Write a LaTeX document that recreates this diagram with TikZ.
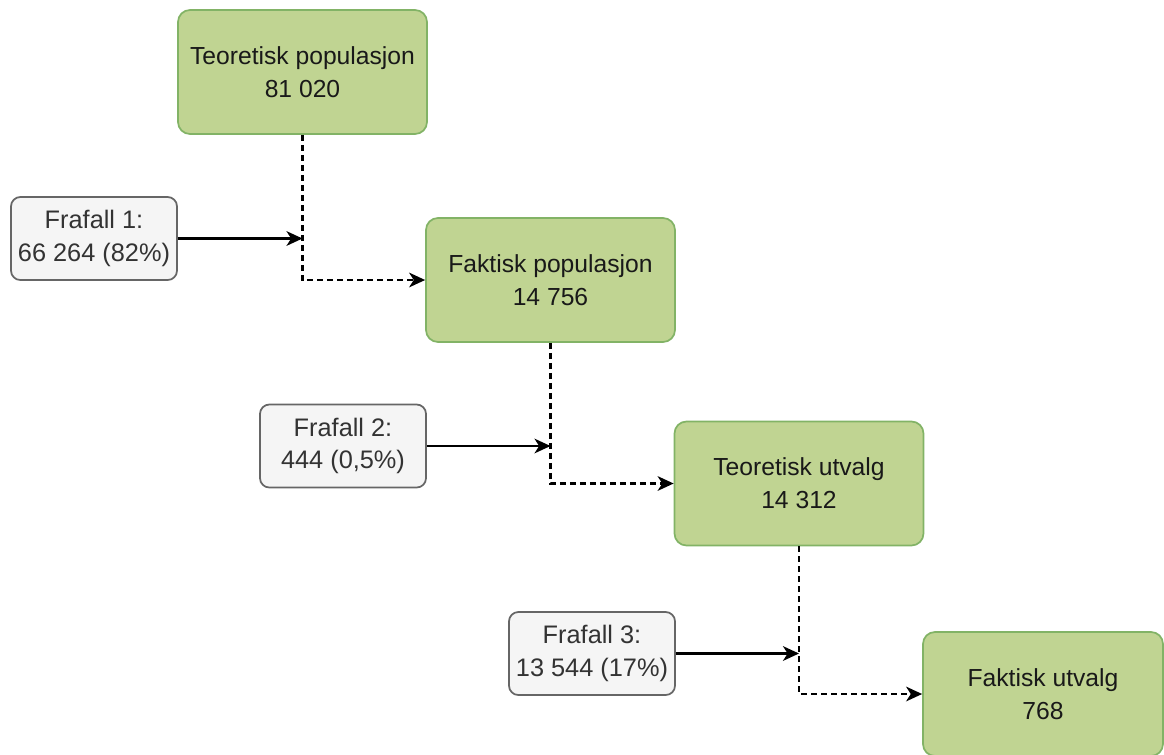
\documentclass[tikz,border=0pt]{standalone}
\usepackage{fontspec}
\setmainfont{Liberation Sans}
\usetikzlibrary{arrows.meta}
\definecolor{gfill}{RGB}{192,212,146}
\definecolor{gdraw}{RGB}{130,179,102}
\definecolor{ffill}{RGB}{245,245,245}
\definecolor{fdraw}{RGB}{102,102,102}
\definecolor{ftext}{RGB}{51,51,51}
\tikzset{
  stage/.style={draw=gdraw, fill=gfill, line width=1.3pt, rounded corners=9pt,
    minimum width=186.75pt, minimum height=93pt, inner sep=0pt, align=center,
    font=\fontsize{18.5pt}{24.5pt}\selectfont, text=black!90},
  loss/.style={draw=fdraw, fill=ffill, line width=1.3pt, rounded corners=7pt,
    minimum width=124.5pt, minimum height=62.25pt, inner sep=0pt, align=center,
    font=\fontsize{19pt}{24.5pt}\selectfont, text=ftext},
  flow/.style={line width=1.7pt, dash pattern=on 4.5pt off 3pt, -{Stealth[length=12pt,width=11pt,inset=3.5pt]}},
  lossarrow/.style={line width=1.7pt, -{Stealth[length=12pt,width=11pt,inset=3.5pt]}}
}
\begin{document}
\begin{tikzpicture}[x=0.75pt,y=-0.75pt]
\useasboundingbox (0,0) rectangle (1164,754);
\clip (0,0) rectangle (1164,754);
\node[stage] (g1) at (302.5,72) {Teoretisk populasjon\\81 020};
\node[stage] (g2) at (550.5,280) {Faktisk populasjon\\14 756};
\node[stage] (g3) at (799,483.5) {Teoretisk utvalg\\14 312};
\node[stage, minimum width=180pt] (g4) at (1043,694) {Faktisk utvalg\\768};
\node[loss] (f1) at (94,238.5) {Frafall 1:\\66 264 (82\%)};
\node[loss] (f2) at (343,446) {Frafall 2:\\444 (0,5\%)};
\node[loss] (f3) at (592,653.5) {Frafall 3:\\13 544 (17\%)};
\draw[flow] (g1.south) |- (g2.west);
\draw[flow] (g2.south) |- (g3.west);
\draw[flow] (g3.south) |- (g4.west);
\draw[lossarrow] (f1.east) -- (f1.east -| g1.south);
\draw[lossarrow] (f2.east) -- (f2.east -| g2.south);
\draw[lossarrow] (f3.east) -- (f3.east -| g3.south);
\end{tikzpicture}
\end{document}
